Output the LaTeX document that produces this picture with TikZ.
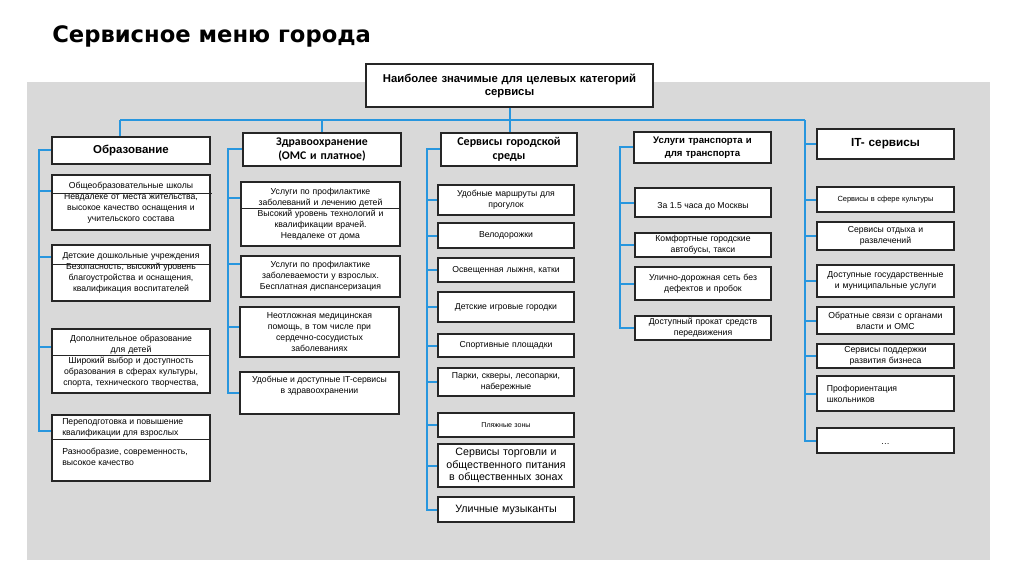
\documentclass[tikz,border=0pt]{standalone}
\usepackage{fontspec}
\setmainfont{Liberation Sans}
\newfontfamily\titlefont{DejaVu Sans}
\newfontfamily\calfont{Carlito}
\usetikzlibrary{calc}
\definecolor{bggray}{RGB}{217,217,217}
\definecolor{conblue}{RGB}{40,150,222}
\newcommand\itemf{\fontsize{6.5}{8.2}\selectfont}
\tikzset{
  box/.style={draw=black!85, fill=white, line width=0.9pt, inner sep=0pt, align=center, font=\itemf},
  conn/.style={draw=conblue, line width=1.5pt},
  ovl/.style={draw=black!85, line width=0.7pt},
  txt/.style={inner sep=0pt, align=center, font=\itemf},
}
% \bx[options]{name}{x1}{y1}{x2}{y2}{text}
\newcommand\bx[7][]{%
  \pgfmathsetmacro\bxw{(#5-#3)*0.75}%
  \pgfmathsetmacro\bxh{(#6-#4)*0.75}%
  \pgfmathsetmacro\bxcx{(#3+#5)/2}%
  \pgfmathsetmacro\bxcy{(#4+#6)/2}%
  \node[box, minimum width=\bxw pt, minimum height=\bxh pt, #1] (#2) at (\bxcx,\bxcy) {#7};}
\begin{document}
\begin{tikzpicture}[x=0.75pt,y=-0.75pt]
\useasboundingbox (0,0) rectangle (1024,574);
\fill[white] (0,0) rectangle (1024,574);
\fill[bggray] (27,82) rectangle (990,560);
\node[anchor=base west, inner sep=0pt, font=\titlefont\bfseries\fontsize{17}{20}\selectfont] (title) at (52,43) {Сервисное меню города};

% top box
\bx[text width=205pt, font=\bfseries\fontsize{8.5}{9.8}\selectfont]{top}{366}{64}{653}{107}{Наиболее значимые для целевых категорий\\сервисы}

% categories
\bx[text width=110pt, font=\bfseries\fontsize{8.6}{10}\selectfont]{edu}{52}{137}{210}{164}{Образование}
\bx[text width=110pt, font=\calfont\bfseries\fontsize{8.8}{10}\selectfont]{health}{243}{133}{401}{166}{Здравоохранение\\(ОМС и платное)}
\bx[text width=95pt, font=\calfont\bfseries\fontsize{9}{10}\selectfont]{urban}{441}{133}{577}{166}{Сервисы городской\\среды}
\bx[text width=95pt, font=\bfseries\fontsize{7.2}{9.5}\selectfont]{trans}{634}{132}{771}{163}{Услуги транспорта и\\для транспорта}
\bx[text width=95pt, font=\bfseries\fontsize{8.8}{10}\selectfont]{it}{817}{129}{954}{159}{IT- сервисы}

% education items
\bx[text width=112pt]{e1}{52}{175}{210}{230}{Общеобразовательные школы\\Невдалеке от места жительства,\\высокое качество оснащения и\\учительского состава}
\bx[text width=112pt]{e2}{52}{245}{210}{301}{Детские дошкольные учреждения\\Безопасность, высокий уровень\\благоустройства и оснащения,\\квалификация воспитателей}
\bx[text width=112pt]{e3}{52}{329}{210}{393}{Дополнительное образование\\для детей\\Широкий выбор и доступность\\образования в сферах культуры,\\спорта, технического творчества,}
\bx{e4}{52}{415}{210}{481}{}
\draw[ovl] (e4.west |- 0,439) -- (e4.east |- 0,439);
\node[txt, align=left, anchor=north west] (e4a) at (62,418) {Переподготовка и повышение\\квалификации для взрослых};
\node[txt, align=left, anchor=north west] (e4b) at (62,448) {Разнообразие, современность,\\высокое качество};
\draw[ovl] (53,193) -- (212,193);
\draw[ovl] (52,264) -- (210,264);
\draw[ovl] (53,355) -- (210,355);

% health items
\bx[text width=112pt]{h1}{241}{182}{400}{246}{Услуги по профилактике\\заболеваний и лечению детей\\Высокий уровень технологий и\\квалификации врачей.\\Невдалеке от дома}
\draw[ovl] (242,208) -- (401,208);
\bx[text width=112pt]{h2}{241}{256}{400}{297}{Услуги по профилактике\\заболеваемости у взрослых.\\Бесплатная диспансеризация}
\bx[text width=112pt]{h3}{240}{307}{399}{357}{Неотложная медицинская\\помощь, в том числе при\\сердечно-сосудистых\\заболеваниях}
\bx{h4}{240}{372}{399}{414}{}
\node[txt] (h4t) at ([yshift=5.25pt]h4.center) {Удобные и доступные IT-сервисы\\в здравоохранении};

% urban items
\bx[text width=95pt]{u1}{438}{185}{574}{215}{Удобные маршруты для\\прогулок}
\bx[text width=95pt]{u2}{438}{223}{574}{248}{Велодорожки}
\bx[text width=95pt]{u3}{438}{258}{574}{282}{Освещенная лыжня, катки}
\bx[text width=95pt]{u4}{438}{292}{574}{322}{Детские игровые городки}
\bx[text width=95pt]{u5}{438}{334}{574}{357}{Спортивные площадки}
\bx[text width=95pt]{u6}{438}{368}{574}{396}{Парки, скверы, лесопарки,\\набережные}
\bx[text width=95pt, font=\fontsize{5.3}{6.5}\selectfont]{u7}{438}{413}{574}{437}{Пляжные зоны}
\bx[text width=98pt, font=\fontsize{8}{9.2}\selectfont]{u8}{438}{444}{574}{487}{Сервисы торговли и\\общественного питания\\в общественных зонах}
\bx[text width=98pt, font=\fontsize{8}{9.2}\selectfont]{u9}{438}{497}{574}{522}{Уличные музыканты}

% transport items
\bx{t1}{635}{188}{771}{217}{}
\node[txt] (t1t) at ([yshift=-2.6pt]t1.center) {За 1.5 часа до Москвы};
\bx[text width=95pt]{t2}{635}{233}{771}{257}{Комфортные городские\\автобусы, такси}
\bx[text width=95pt]{t3}{635}{267}{771}{300}{Улично-дорожная сеть без\\дефектов и пробок}
\bx[text width=95pt]{t4}{635}{316}{771}{340}{Доступный прокат средств\\передвижения}

% IT items
\bx[text width=95pt, font=\fontsize{5.6}{7}\selectfont]{i1}{817}{187}{954}{212}{Сервисы в сфере культуры}
\bx[text width=95pt]{i2}{817}{222}{954}{250}{Сервисы отдыха и\\развлечений}
\bx[text width=95pt]{i3}{817}{265}{954}{297}{Доступные государственные\\и муниципальные услуги}
\bx[text width=95pt]{i4}{817}{307}{954}{334}{Обратные связи с органами\\власти и ОМС}
\bx[text width=95pt]{i5}{817}{344}{954}{368}{Сервисы поддержки\\развития бизнеса}
\bx[text width=88pt, align=left]{i6}{817}{376}{954}{411}{Профориентация\\школьников}
\bx{i7}{817}{428}{954}{453}{}
\node[txt] (i7t) at ([yshift=-3pt]i7.center) {…};

% connectors: top level
\coordinate (L) at (120,120);
\coordinate (R) at (805,120);
\draw[conn] (L) -- (R);
\draw[conn] (L) -- (L |- edu.north);
\draw[conn] (health.north |- L) -- (health.north);
\draw[conn] (top.south) -- (top.south |- urban.north);

% education bracket
\coordinate (ex) at (39,0);
\coordinate (e1b) at ([yshift=8.6pt]e1.west);
\coordinate (e2b) at ([yshift=12pt]e2.west);
\coordinate (e3b) at ([yshift=10.5pt]e3.west);
\coordinate (e4c) at ([yshift=12.75pt]e4.west);
\draw[conn] (edu.west) -| (ex |- e4c) -- (e4c);
\foreach \n in {e1b,e2b,e3b} \draw[conn] (ex |- \n) -- (\n);

% health bracket
\coordinate (hx) at (228,0);
\coordinate (h1b) at ([yshift=12pt]h1.west);
\coordinate (h2b) at ([yshift=9.4pt]h2.west);
\coordinate (h3b) at ([yshift=3.75pt]h3.west);
\draw[conn] (health.west) -| (hx |- h4.west) -- (h4.west);
\foreach \n in {h1b,h2b,h3b} \draw[conn] (hx |- \n) -- (\n);

% urban bracket
\coordinate (ux) at (427,0);
\draw[conn] (urban.west) -| (ux |- u9.west) -- (u9.west);
\foreach \n in {u1,u2,u3,u4,u5,u6,u7,u8} \draw[conn] (ux |- \n.west) -- (\n.west);

% transport bracket
\coordinate (tx) at (620,0);
\draw[conn] (trans.west) -| (tx |- t4.west) -- (t4.west);
\foreach \n in {t1,t2,t3} \draw[conn] (tx |- \n.west) -- (\n.west);

% IT bracket
\draw[conn] (R) |- (i7.west);
\foreach \n in {it,i1,i2,i3,i4,i5,i6} \draw[conn] (R |- \n.west) -- (\n.west);
\end{tikzpicture}
\end{document}
